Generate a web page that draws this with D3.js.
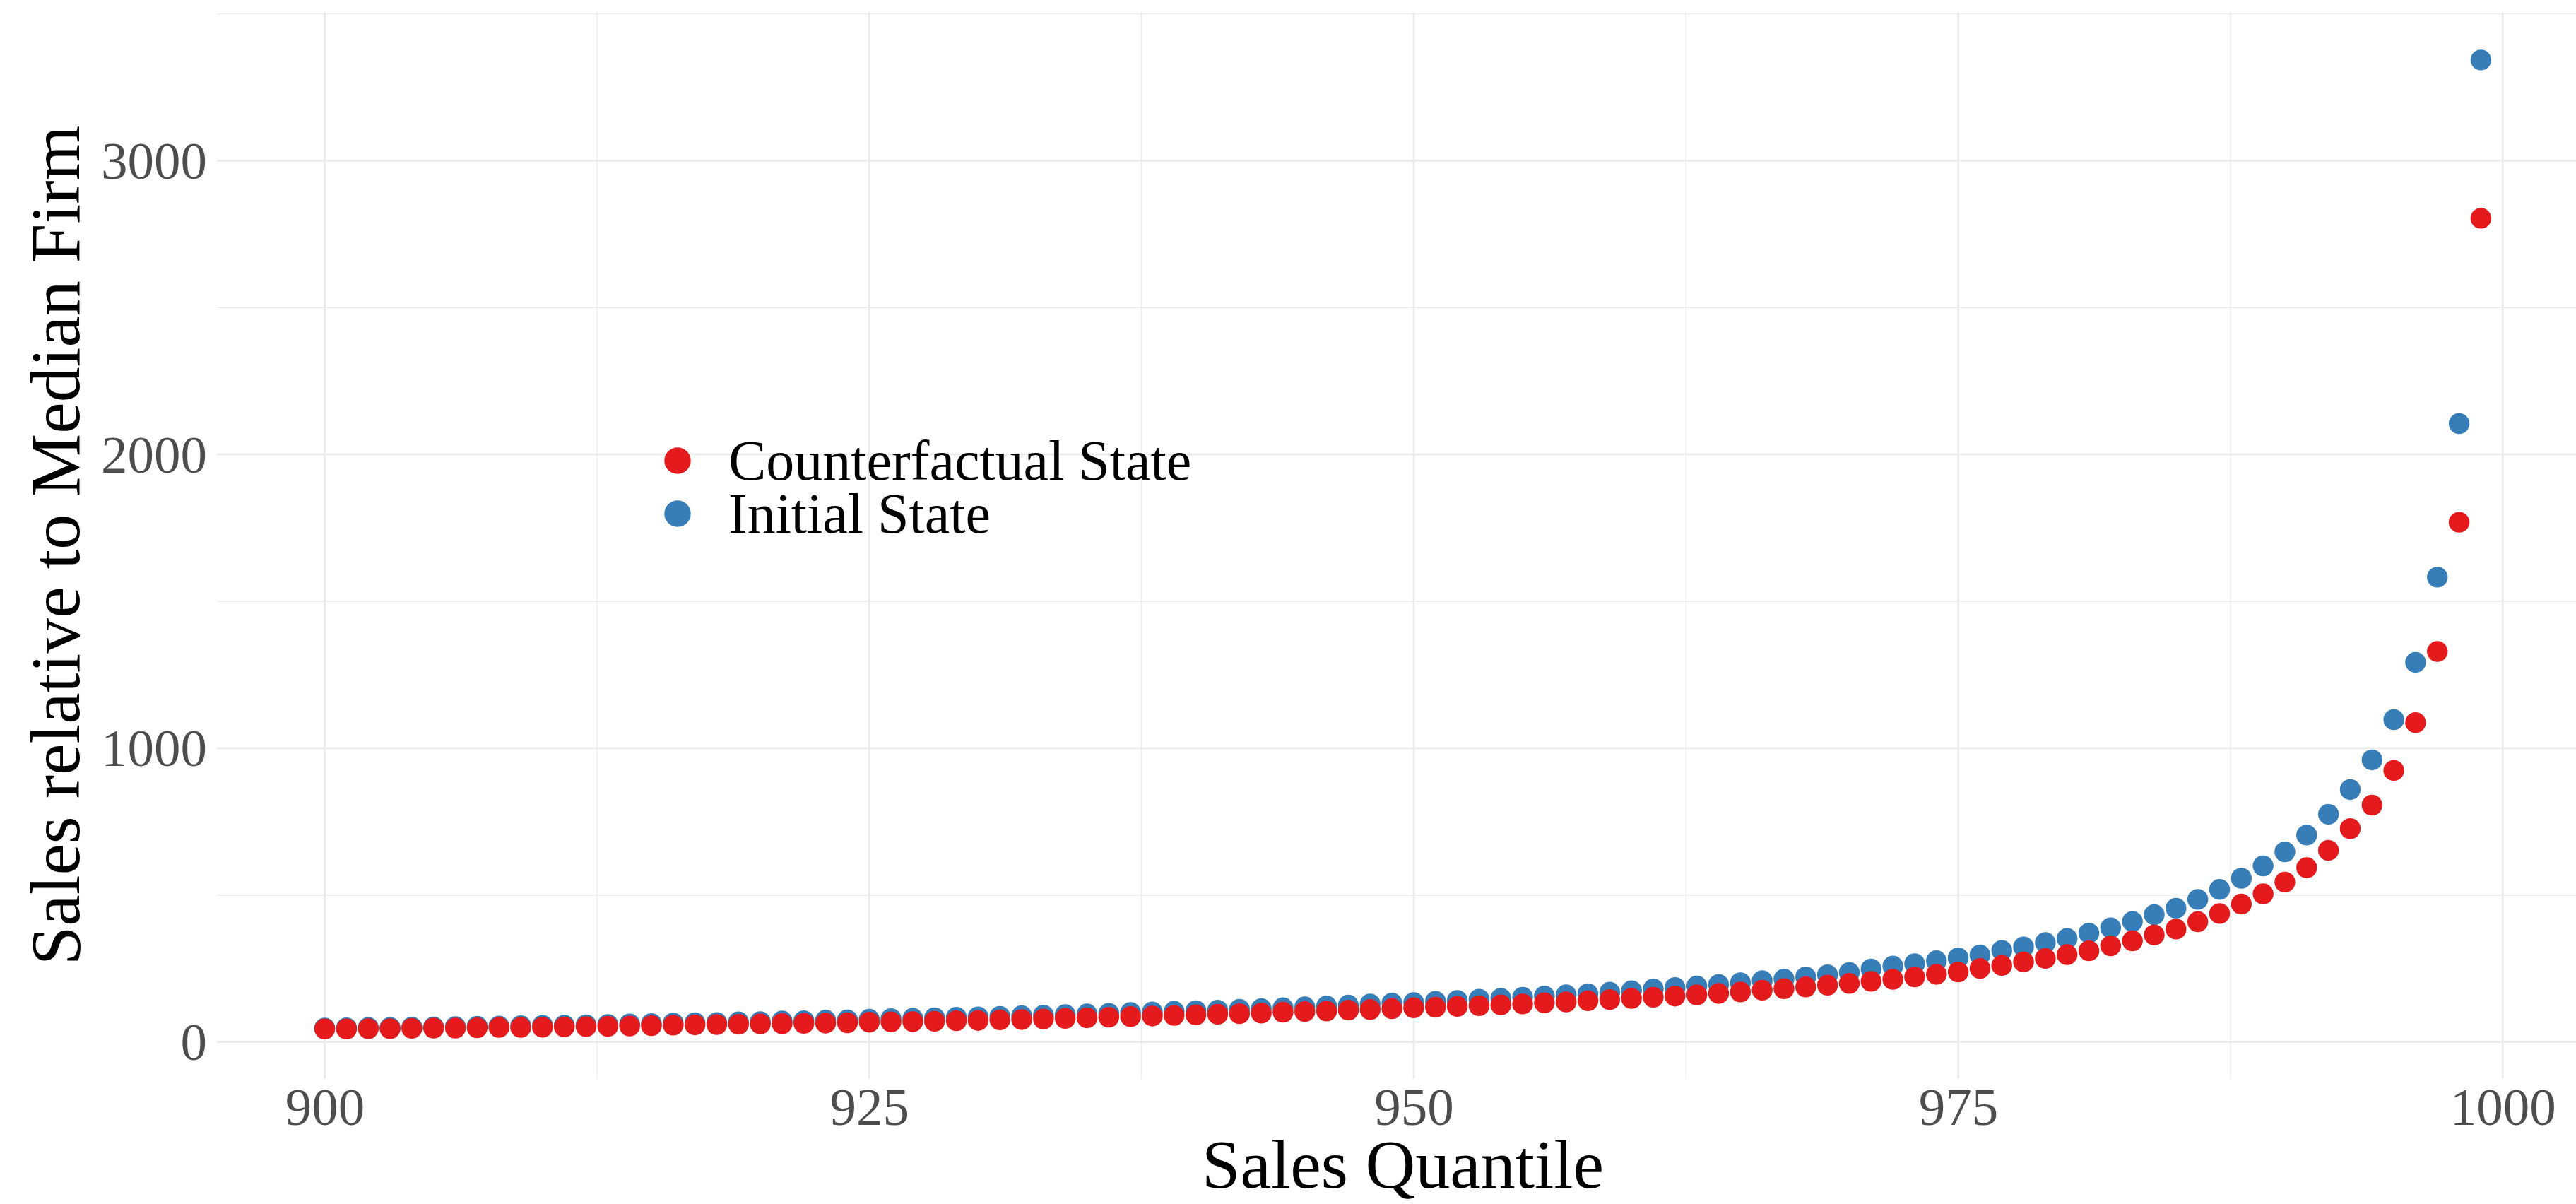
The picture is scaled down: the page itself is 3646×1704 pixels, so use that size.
<!DOCTYPE html>
<html>
<head>
<meta charset="utf-8">
<script src="https://cdn.jsdelivr.net/npm/d3@7"></script>
<style>
  html, body { margin: 0; padding: 0; background: #ffffff; }
  svg { display: block; }
</style>
</head>
<body>
<svg id="chart" width="3646" height="1704"></svg>
<script>
// ---- data ----
const quantiles = [
  900,901,902,903,904,905,906,907,908,909,
  910,911,912,913,914,915,916,917,918,919,
  920,921,922,923,924,925,926,927,928,929,
  930,931,932,933,934,935,936,937,938,939,
  940,941,942,943,944,945,946,947,948,949,
  950,951,952,953,954,955,956,957,958,959,
  960,961,962,963,964,965,966,967,968,969,
  970,971,972,973,974,975,976,977,978,979,
  980,981,982,983,984,985,986,987,988,989,
  990,991,992,993,994,995,996,997,998,999
];
const initialState = [
  47,48,49,49,50,51,52,53,54,55,
  56,57,58,59,61,62,64,65,66,68,
  69,71,72,74,75,77,79,80,82,84,
  85,87,89,91,93,95,97,100,102,104,
  106,108,111,113,116,119,122,125,129,132,
  134,138,141,145,148,152,156,160,164,169,
  174,180,185,190,195,201,208,214,221,228,
  236,248,258,266,276,286,296,311,323,338,
  352,370,388,410,433,455,485,519,557,599,
  647,704,775,859,960,1097,1292,1582,2105,3343
];
const counterfactualState = [
  44,44,45,45,46,47,47,48,49,49,
  50,51,52,53,54,55,57,58,59,60,
  61,62,63,64,65,67,68,69,70,72,
  73,75,76,78,80,82,84,86,88,90,
  92,94,96,98,101,103,105,108,110,113,
  116,118,121,123,126,129,133,136,140,144,
  148,152,156,160,165,170,176,181,187,193,
  199,206,213,221,230,238,250,260,272,284,
  297,310,327,344,364,384,409,437,469,504,
  544,593,652,726,806,924,1087,1329,1769,2804
];
const seriesNames = ["Counterfactual State", "Initial State"];
const seriesColors = ["#E41A1C", "#377EB8"];
const xTicks = [900, 925, 950, 975, 1000];
const xMinorTicks = [912.5, 937.5, 962.5, 987.5];
const yTicks = [0, 1000, 2000, 3000];
const yMinorTicks = [500, 1500, 2500, 3500];
const xTitle = "Sales Quantile";
const yTitle = "Sales relative to Median Firm";

// ---- layout ----
const FONT = "'Liberation Serif', 'DejaVu Serif', serif";
const svg = d3.select("#chart");
const panel = { left: 307, right: 3664, top: 17.5, bottom: 1526.5 };

const x = d3.scaleLinear().domain([895.05, 1003.95]).range([panel.left, panel.right]);
const y = d3.scaleLinear().domain([-125, 3505]).range([panel.bottom, panel.top]);

// grid
const grid = svg.append("g");
grid.selectAll("line.ymin").data(yMinorTicks).join("line")
  .attr("x1", panel.left).attr("x2", panel.right)
  .attr("y1", d => y(d)).attr("y2", d => y(d))
  .attr("stroke", "#EBEBEB").attr("stroke-width", 1.4);
grid.selectAll("line.xmin").data(xMinorTicks).join("line")
  .attr("y1", panel.top).attr("y2", panel.bottom)
  .attr("x1", d => x(d)).attr("x2", d => x(d))
  .attr("stroke", "#EBEBEB").attr("stroke-width", 1.4);
grid.selectAll("line.ymaj").data(yTicks).join("line")
  .attr("x1", panel.left).attr("x2", panel.right)
  .attr("y1", d => y(d)).attr("y2", d => y(d))
  .attr("stroke", "#EBEBEB").attr("stroke-width", 2.8);
grid.selectAll("line.xmaj").data(xTicks).join("line")
  .attr("y1", panel.top).attr("y2", panel.bottom)
  .attr("x1", d => x(d)).attr("x2", d => x(d))
  .attr("stroke", "#EBEBEB").attr("stroke-width", 2.8);

// axes (labels only)
const xAxis = svg.append("g")
  .attr("transform", `translate(0,${panel.bottom})`)
  .call(d3.axisBottom(x).tickValues(xTicks).tickSize(0).tickPadding(0).tickFormat(d3.format("d")));
xAxis.select(".domain").remove();
xAxis.selectAll("text")
  .attr("y", 65).attr("dy", 0)
  .attr("font-family", FONT).attr("font-size", 75).attr("fill", "#4D4D4D");

const yAxis = svg.append("g")
  .attr("transform", `translate(${panel.left},0)`)
  .call(d3.axisLeft(y).tickValues(yTicks).tickSize(0).tickPadding(0).tickFormat(d3.format("d")));
yAxis.select(".domain").remove();
yAxis.selectAll("text")
  .attr("x", -14).attr("dy", 25)
  .attr("font-family", FONT).attr("font-size", 75).attr("fill", "#4D4D4D");

// points
const R = 14.7;
const pts = svg.append("g");
pts.selectAll("circle.init").data(quantiles).join("circle")
  .attr("cx", d => x(d))
  .attr("cy", (d, i) => y(initialState[i]))
  .attr("r", R).attr("fill", seriesColors[1]);
pts.selectAll("circle.cf").data(quantiles).join("circle")
  .attr("cx", d => x(d))
  .attr("cy", (d, i) => y(counterfactualState[i]))
  .attr("r", R).attr("fill", seriesColors[0]);

// titles
svg.append("text")
  .attr("x", (panel.left + panel.right) / 2).attr("y", 1681)
  .attr("text-anchor", "middle")
  .attr("font-family", FONT).attr("font-size", 98).attr("fill", "#000")
  .text(xTitle);
svg.append("text")
  .attr("transform", `translate(112,${(panel.top + panel.bottom) / 2}) rotate(-90)`)
  .attr("text-anchor", "middle")
  .attr("font-family", FONT).attr("font-size", 100).attr("fill", "#000")
  .text(yTitle);

// legend
const legend = svg.append("g").attr("transform", "translate(959,652)");
const li = legend.selectAll("g").data(seriesNames).join("g")
  .attr("transform", (d, i) => `translate(0,${i * 75})`);
li.append("circle").attr("r", 18.7).attr("fill", (d, i) => seriesColors[i]);
li.append("text")
  .attr("x", 72).attr("dy", 27)
  .attr("font-family", FONT).attr("font-size", 80).attr("fill", "#000")
  .text(d => d);
</script>
</body>
</html>
